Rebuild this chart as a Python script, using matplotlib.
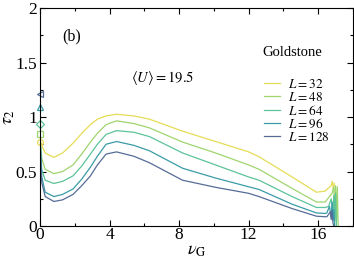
import numpy as np
import matplotlib
matplotlib.use("Agg")
import matplotlib.pyplot as plt
from matplotlib.ticker import MultipleLocator, FormatStrFormatter

plt.rcParams['font.family'] = ['Liberation Serif', 'DejaVu Serif']
plt.rcParams['mathtext.fontset'] = 'stix'

# sizes and colours
sizes = [32, 48, 64, 96, 128]
colors = ['#e6dc55', '#9fd56e', '#5cc39a', '#3a9ba6', '#566c96']

# start of each curve (steep drop at small nu_G)
x_head = [0.02, 0.1, 0.3]
y_head = {
    32: [0.78, 0.74, 0.67],
    48: [0.78, 0.62, 0.52],
    64: [0.76, 0.52, 0.42],
    96: [0.74, 0.45, 0.31],
    128: [0.72, 0.40, 0.27],
}

# common body
x_body = [0.8, 1.3, 1.9, 2.4, 2.9, 3.3, 3.8, 4.4, 5.4, 6.3, 8.2, 10.1, 12.0, 12.6, 14.5, 15.9, 16.4]
y_body = {
    32: [0.63, 0.67, 0.76, 0.85, 0.93, 0.98, 1.01, 1.025, 1.01, 0.98, 0.87, 0.775, 0.68, 0.635, 0.45, 0.31, 0.32],
    48: [0.48, 0.50, 0.56, 0.66, 0.77, 0.85, 0.93, 0.965, 0.94, 0.90, 0.77, 0.67, 0.56, 0.52, 0.345, 0.22, 0.22],
    64: [0.39, 0.41, 0.46, 0.55, 0.66, 0.75, 0.84, 0.875, 0.86, 0.82, 0.67, 0.56, 0.45, 0.42, 0.27, 0.17, 0.17],
    96: [0.27, 0.29, 0.34, 0.43, 0.54, 0.64, 0.75, 0.775, 0.74, 0.69, 0.53, 0.44, 0.36, 0.335, 0.20, 0.12, 0.115],
    128: [0.225, 0.24, 0.29, 0.37, 0.46, 0.56, 0.66, 0.68, 0.64, 0.58, 0.42, 0.355, 0.30, 0.27, 0.16, 0.09, 0.085],
}

# noisy ends near nu_G ~ 17
x_tail = {
    32: [16.6, 16.75, 16.82, 16.88, 16.93],
    48: [16.6, 16.8, 16.9, 16.95, 17.0, 17.05, 17.1, 17.15],
    64: [16.6, 16.75, 16.85, 16.9, 16.95, 17.0, 17.05],
    96: [16.5, 16.65, 16.75, 16.8, 16.85, 16.9, 16.95],
    128: [16.5, 16.7, 16.75, 16.8, 16.85, 16.9],
}
y_tail = {
    32: [0.35, 0.37, 0.41, 0.33, 0.39],
    48: [0.26, 0.30, 0.36, 0.05, 0.37, 0.02, 0.36, 0.0],
    64: [0.18, 0.25, 0.12, 0.28, 0.05, 0.30, 0.0],
    96: [0.12, 0.18, 0.08, 0.22, 0.05, 0.15, 0.0],
    128: [0.085, 0.13, 0.06, 0.14, 0.03, 0.0],
}

# values at nu_G = 0
markers = ['o', 's', 'D', '^', '<']
y_zero = [0.77, 0.84, 0.94, 1.09, 1.21]

fig = plt.figure(figsize=(3.54, 2.58), dpi=100)
ax = fig.add_axes([0.113, 0.124, 0.884, 0.845])

for L, c in zip(sizes, colors):
    xs = x_head + x_body + x_tail[L]
    ys = y_head[L] + y_body[L] + y_tail[L]
    ax.plot(xs, ys, color=c, lw=0.9, label=r'$L=%d$' % L)

for m, v, c in zip(markers, y_zero, colors):
    ax.plot([0], [v], marker=m, ms=4.2, mfc='none', mec=c, mew=0.9,
            ls='none', clip_on=False)

ax.set_xlim(0, 18)
ax.set_ylim(0, 2)
ax.xaxis.set_major_locator(MultipleLocator(4))
ax.xaxis.set_minor_locator(MultipleLocator(2))
ax.yaxis.set_major_locator(MultipleLocator(0.5))
ax.yaxis.set_minor_locator(MultipleLocator(0.25))
ax.yaxis.set_major_formatter(FormatStrFormatter('%g'))
ax.tick_params(which='both', direction='in', top=True, right=True, labelsize=12.5)
ax.tick_params(axis='x', pad=1)
ax.tick_params(axis='y', pad=2)
ax.tick_params(which='major', length=4, width=0.8)
ax.tick_params(which='minor', length=2.5, width=0.8)

ax.set_xlabel(r'$\nu_{\rm G}$', fontsize=13)
ax.xaxis.set_label_coords(0.5, -0.075)
ax.set_ylabel(r'$\tau_2$', fontsize=13)
ax.yaxis.set_label_coords(-0.075, 0.5)

ax.text(0.07, 0.85, '(b)', transform=ax.transAxes, fontsize=11.5)
ax.text(0.29, 0.66, r'$\langle U\rangle=19.5$', transform=ax.transAxes, fontsize=10.5)
ax.text(0.711, 0.78, 'Goldstone', transform=ax.transAxes, fontsize=10.5)

ax.legend(loc='upper left', bbox_to_anchor=(0.70, 0.705), frameon=False, fontsize=9.5,
          handlelength=1.2, handletextpad=0.6, labelspacing=0.0, borderaxespad=0)

fig.savefig('out.png', dpi=100)
